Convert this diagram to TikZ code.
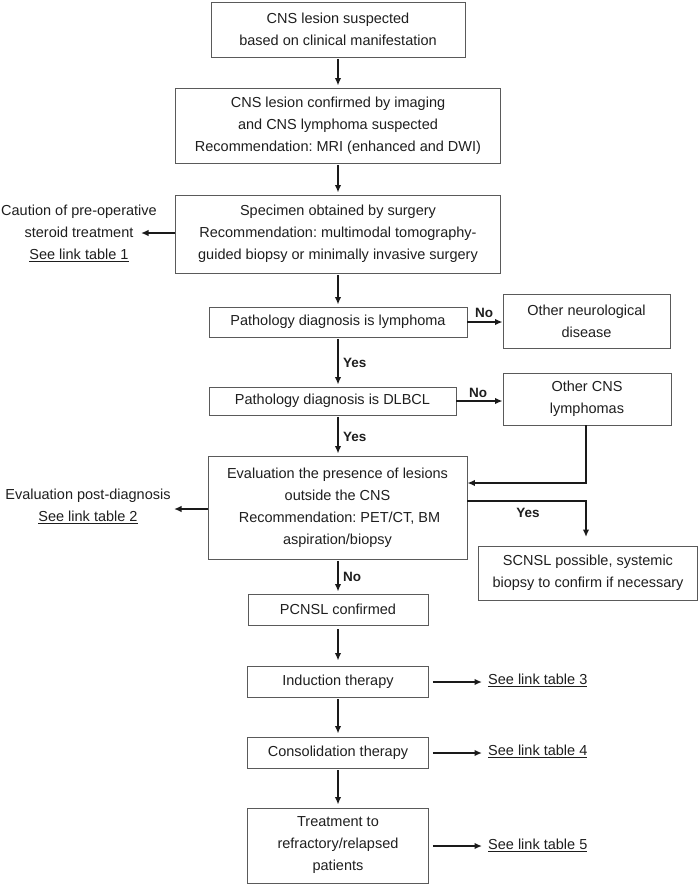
\documentclass[tikz,border=0pt]{standalone}
\usepackage{fontspec}
\setmainfont{Liberation Sans}
\usetikzlibrary{arrows.meta}
\definecolor{boxgray}{HTML}{5A5A5A}
\definecolor{txt}{HTML}{1E1E1E}
\definecolor{arrc}{HTML}{1A1A1A}
\frenchspacing
\begin{document}
\begin{tikzpicture}[x=1pt,y=-1pt,
  box/.style={draw=boxgray, line width=0.9pt, text=txt, align=center, inner sep=0pt, font=\fontsize{14.5}{22}\selectfont},
  lbl/.style={text=txt, align=center, inner sep=0pt, font=\fontsize{14.5}{22}\selectfont},
  yn/.style={text=txt, inner sep=0pt, font=\fontsize{13.5}{16}\selectfont\bfseries},
  arr/.style={draw=arrc, line width=1.6pt, -{Latex[length=7.5pt,width=6.5pt]}},
  varr/.style={arr, shorten >=2pt, shorten <=1.5pt}
]
\useasboundingbox (0,0) rectangle (700,884);

% main column
\node[box, minimum width=254pt, minimum height=55pt] (b1) at (338,29.5) {CNS lesion suspected\\based on clinical manifestation};
\node[box, minimum width=325pt, minimum height=75pt] (b2) at (338,125.5) {CNS lesion confirmed by imaging\\and CNS lymphoma suspected\\Recommendation: MRI (enhanced and DWI)};
\node[box, minimum width=325pt, minimum height=78pt] (b3) at (338,234) {Specimen obtained by surgery\\Recommendation: multimodal tomography-\\guided biopsy or minimally invasive surgery};
\node[box, minimum width=258pt, minimum height=30pt] (b4) at (338,322) {Pathology diagnosis is lymphoma};
\node[box, minimum width=167pt, minimum height=54pt] (b5) at (586.5,321) {Other neurological\\disease};
\node[box, minimum width=247pt, minimum height=28pt] (b6) at (332.5,401) {Pathology diagnosis is DLBCL};
\node[box, minimum width=168pt, minimum height=52pt] (b7) at (587,399) {Other CNS\\lymphomas};
\node[box, minimum width=259pt, minimum height=103pt] (b8) at (337.5,507.5) {Evaluation the presence of lesions\\outside the CNS\\\ Recommendation: PET/CT, BM\\aspiration/biopsy};
\node[box, minimum width=219pt, minimum height=54pt] (b9) at (588,573) {SCNSL possible, systemic\\biopsy to confirm if necessary};
\node[box, minimum width=180pt, minimum height=31pt] (b10) at (338,609.5) {PCNSL confirmed};
\node[box, minimum width=181pt, minimum height=31pt] (b11) at (338,681.5) {Induction therapy};
\node[box, minimum width=181pt, minimum height=31pt] (b12) at (338,752.5) {Consolidation therapy};
\node[box, minimum width=181pt, minimum height=75pt] (b13) at (338,845.5) {Treatment to\\refractory/relapsed\\patients};

% side texts
\node[lbl] (t1) at (79,233) {Caution of pre-operative\\steroid treatment\\\underline{See link table 1}};
\node[lbl] (t2) at (88,506.5) {Evaluation post-diagnosis\\\underline{See link table 2}};
\node[lbl, anchor=west] (t3) at (488,680) {\underline{See link table 3}};
\node[lbl, anchor=west] (t4) at (488,751) {\underline{See link table 4}};
\node[lbl, anchor=west] (t5) at (488,845) {\underline{See link table 5}};

\coordinate (c1) at (141,233);
\coordinate (c2) at (174,509);
\coordinate (c3) at (482,682);
\coordinate (c4) at (482,753);
\coordinate (c5) at (482,846);
\coordinate (c6) at (586,546);

% vertical arrows
\draw[varr] (b1) -- (b2);
\draw[varr] (b2) -- (b3);
\draw[varr] (b3.south -| b4.north) -- (b4.north);
\draw[varr] (b4.south) -- (b4.south |- b6.north);
\draw[varr] (b4.south |- b6.south) -- (b4.south |- b8.north);
\draw[varr] (b8.south -| b10.north) -- (b10.north);
\draw[arr, shorten >=5pt, shorten <=4pt] (b10) -- (b11);
\draw[arr, shorten >=3pt, shorten <=2pt] (b11) -- (b12);
\draw[arr, shorten >=3pt, shorten <=2pt] (b12) -- (b13);

% labels on vertical arrows
\node[yn, anchor=west] (y1) at (343,363) {Yes};
\node[yn, anchor=west] (y2) at (343,437) {Yes};
\node[yn, anchor=west] (n3) at (343,577) {No};

% horizontal branches
\draw[arr] (b4.east) -- (b5.west |- b4.east);
\node[yn] (n1) at (484,313) {No};
\draw[arr] (b6.east) -- (b7.west |- b6.east);
\node[yn] (n2) at (478,393) {No};
\draw[arr] (b7.south -| c6) |- ([yshift=24.5pt]b8.east);
\draw[arr, shorten >=9pt] ([yshift=6.5pt]b8.east) -| (c6);
\node[yn] (y3) at (528,513) {Yes};

% left arrows
\draw[arr] (b3.west |- c1) -- (c1);
\draw[arr] (b8.west |- c2) -- (c2);

% right link arrows
\draw[arr] ([xshift=4pt]b11.east |- c3) -- (c3);
\draw[arr] ([xshift=4pt]b12.east |- c4) -- (c4);
\draw[arr] ([xshift=4pt]b13.east |- c5) -- (c5);
\end{tikzpicture}
\end{document}
